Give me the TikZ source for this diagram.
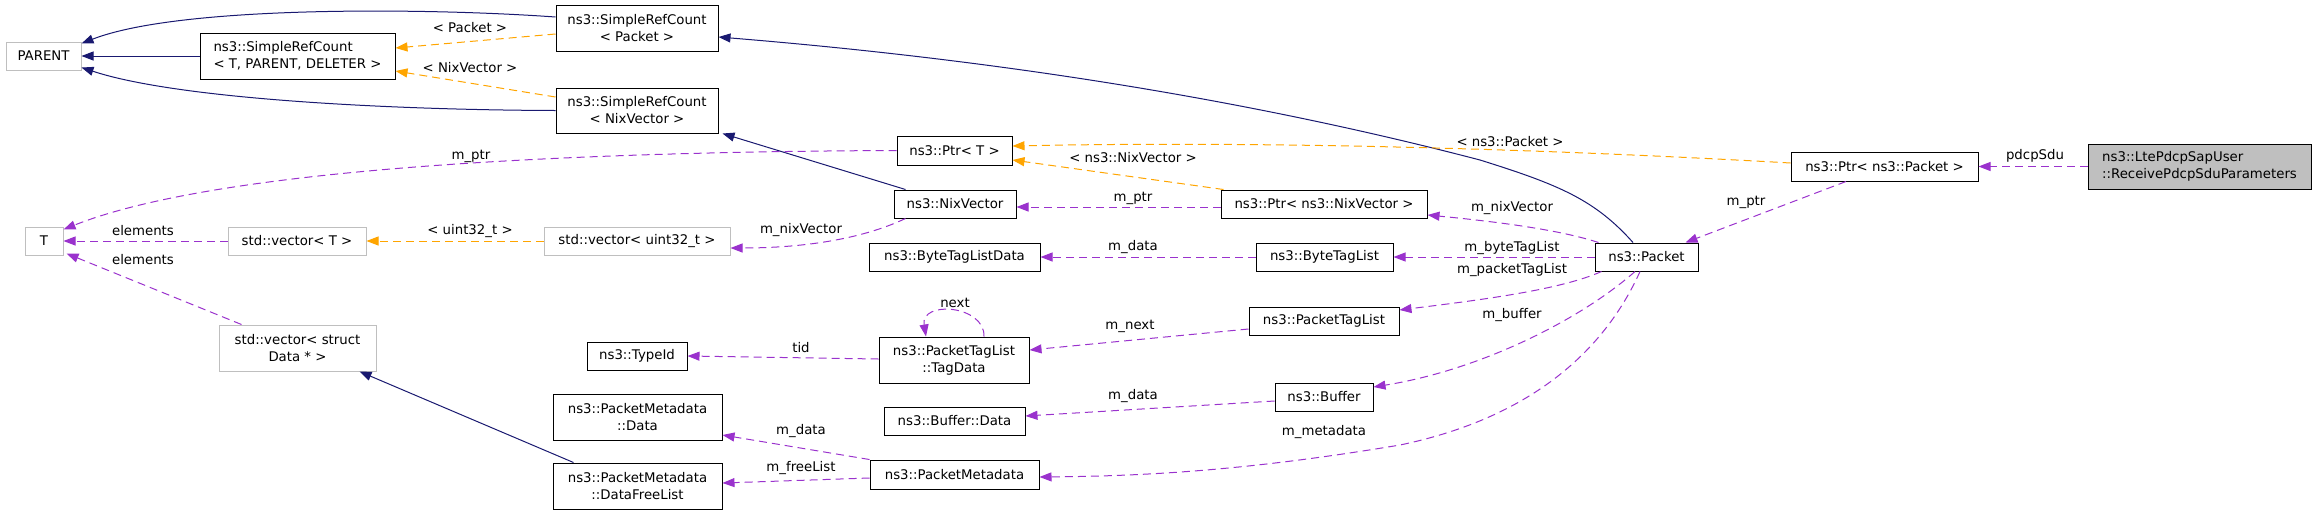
\documentclass[tikz,border=0pt]{standalone}
\usepackage{fontspec}
\setmainfont{DejaVu Sans}
\usetikzlibrary{arrows.meta}
\definecolor{navy}{HTML}{191970}
\definecolor{orng}{HTML}{FFA500}
\definecolor{purp}{HTML}{9A32CD}
\definecolor{gborder}{HTML}{BFBFBF}
\begin{document}
\begin{tikzpicture}[x=1pt,y=-1pt,
  font=\fontsize{13.3}{17}\selectfont,
  box/.style={draw=black, line width=1pt, inner sep=0pt, align=center, minimum height=28pt},
  gbox/.style={box, draw=gborder},
  tip/.style={-{Triangle[length=12pt,width=9pt]}},
  inh/.style={draw=navy, line width=1pt, tip},
  tmpl/.style={draw=orng, line width=1pt, dash pattern=on 8pt off 5pt, tip},
  use/.style={draw=purp, line width=1pt, dash pattern=on 8pt off 5pt, tip},
  lbl/.style={inner sep=0pt}]
\useasboundingbox (0,0) rectangle (2317,515);
% nodes
\node[gbox, minimum width=75pt] (PARENT) at (43.5,56) {PARENT};
\node[box, minimum width=195pt, minimum height=46pt, align=left] (srcT) at (297.5,56) {ns3::SimpleRefCount\\< T, PARENT, DELETER >};
\node[box, minimum width=162pt, minimum height=46pt] (srcPacket) at (637,28) {ns3::SimpleRefCount\\< Packet >};
\node[box, minimum width=162pt, minimum height=45pt] (srcNix) at (637,110.5) {ns3::SimpleRefCount\\< NixVector >};
\node[gbox, minimum width=38pt] (T) at (44,241) {T};
\node[gbox, minimum width=138pt] (vecT) at (297,241) {std::vector< T >};
\node[gbox, minimum width=186pt] (vecU) at (637,241) {std::vector< uint32\_t >};
\node[gbox, minimum width=157pt, minimum height=46pt] (vecData) at (297.5,348) {std::vector< struct\\Data * >};
\node[box, minimum width=100pt] (TypeId) at (637,356) {ns3::TypeId};
\node[box, minimum width=169pt, minimum height=46pt] (PMData) at (637.5,417) {ns3::PacketMetadata\\::Data};
\node[box, minimum width=169pt, minimum height=46pt] (PMFree) at (637.5,486) {ns3::PacketMetadata\\::DataFreeList};
\node[box, minimum width=115pt, minimum height=29pt] (PtrT) at (954.5,150.5) {ns3::Ptr< T >};
\node[box, minimum width=122pt] (Nix) at (955,204) {ns3::NixVector};
\node[box, minimum width=206pt] (PtrNix) at (1324,204) {ns3::Ptr< ns3::NixVector >};
\node[box, minimum width=171pt] (BTLD) at (954.5,257) {ns3::ByteTagListData};
\node[box, minimum width=137pt] (BTL) at (1324.5,257) {ns3::ByteTagList};
\node[box, minimum width=150pt, minimum height=46pt] (TagData) at (954,360) {ns3::PacketTagList\\::TagData};
\node[box, minimum width=150pt] (PTL) at (1324,321) {ns3::PacketTagList};
\node[box, minimum width=98pt] (Buffer) at (1324,397) {ns3::Buffer};
\node[box, minimum width=141pt] (BufData) at (954.5,421) {ns3::Buffer::Data};
\node[box, minimum width=169pt, minimum height=29pt] (PM) at (954.5,474.5) {ns3::PacketMetadata};
\node[box, minimum width=187pt, minimum height=29pt] (PtrPacket) at (1884.5,166.5) {ns3::Ptr< ns3::Packet >};
\node[box, fill=gborder, minimum width=223pt, minimum height=45pt, align=left] (Lte) at (2199.5,166.5) {ns3::LtePdcpSapUser\\::ReceivePdcpSduParameters};
\node[box, minimum width=103pt] (Packet) at (1646.5,257) {ns3::Packet};
% inheritance
\draw[inh] (srcT.west) -- (PARENT.east);
\draw[inh] ([yshift=11pt]srcPacket.west) .. controls (430,8) and (180,5) .. ([yshift=-2pt]PARENT.north east);
\draw[inh] (srcNix.west) .. controls (400,110) and (180,100) .. ([yshift=3pt]PARENT.south east);
\draw[inh] ([xshift=-13.5pt]Packet.north) .. controls (1595,200) and (1560,185) .. (1480,160) .. controls (1250,100) and (1000,60) .. ([yshift=-9pt]srcPacket.east);
\draw[inh] ([xshift=12pt]Nix.north west) -- ([xshift=4pt]srcNix.south east);
\draw[inh] ([xshift=21pt]PMFree.north west) -- ([xshift=-17pt]vecData.south east);
% template
\draw[tmpl] ([yshift=-6pt]srcPacket.west) -- ([yshift=8pt]srcT.east);
\draw[tmpl] ([yshift=13.5pt]srcNix.west) -- ([yshift=-15pt]srcT.east);
\draw[tmpl] (vecU.west) -- (vecT.east);
\draw[tmpl] ([xshift=3pt]PtrNix.north west) -- ([yshift=-9.5pt]PtrT.east);
\draw[tmpl] ([yshift=3.5pt]PtrPacket.west) .. controls (1600,152) and (1300,140) .. ([yshift=4.5pt]PtrT.east);
% usage
\draw[use] (PtrT.west) .. controls (500,152) and (200,175) .. ([yshift=-3pt]T.north east);
\draw[use] (vecT.west) -- (T.east);
\draw[use] ([xshift=23pt]vecData.north west) -- ([xshift=3pt,yshift=2pt]T.south east);
\draw[use] ([xshift=12pt]Nix.south west) .. controls (860,240) and (800,248) .. ([yshift=-7pt]vecU.east);
\draw[use] ([yshift=-3pt]PtrNix.west) -- ([yshift=-3pt]Nix.east);
\draw[use] ([xshift=4pt]Packet.north west) .. controls (1560,230) and (1500,222) .. ([yshift=-11pt]PtrNix.east);
\draw[use] (Packet.west) -- (BTL.east);
\draw[use] (BTL.west) -- (BTLD.east);
\draw[use] ([xshift=7pt]Packet.south west) .. controls (1560,290) and (1480,300) .. ([yshift=11pt]PTL.east);
\draw[use] ([yshift=-8pt]PTL.west) -- ([yshift=10pt]TagData.east);
\draw[use] ([xshift=30pt]TagData.north) .. controls (985,305) and (920,300) .. ([xshift=-28pt]TagData.north);
\draw[use] ([yshift=1pt]TagData.west) -- (TypeId.east);
\draw[use] ([xshift=-11.5pt]Packet.south) .. controls (1580,320) and (1480,370) .. ([yshift=10pt]Buffer.east);
\draw[use] ([yshift=-4pt]Buffer.west) -- ([yshift=5pt]BufData.east);
\draw[use] ([xshift=-6.5pt]Packet.south) .. controls (1600,360) and (1520,420) .. (1400,445) .. controls (1250,470) and (1150,476) .. ([yshift=-2.5pt]PM.east);
\draw[use] (PM.north west) -- ([yshift=-18pt]PMData.east);
\draw[use] ([yshift=-3.5pt]PM.west) -- ([yshift=3pt]PMFree.east);
\draw[use] ([xshift=-38.5pt]PtrPacket.south) -- ([xshift=-13pt]Packet.north east);
\draw[use] (Lte.west) -- (PtrPacket.east);
% labels
\node[lbl] (l1) at (470,28) {< Packet >};
\node[lbl] (l2) at (470,68) {< NixVector >};
\node[lbl] (l3) at (470,231) {< uint32\_t >};
\node[lbl] (l4) at (1133,158) {< ns3::NixVector >};
\node[lbl] (l5) at (1510,142) {< ns3::Packet >};
\node[lbl] (l6) at (471,156) {m\_ptr};
\node[lbl] (l7) at (143,231) {elements};
\node[lbl] (l8) at (143,260) {elements};
\node[lbl] (l9) at (801,230) {m\_nixVector};
\node[lbl] (l10) at (1133,198) {m\_ptr};
\node[lbl] (l11) at (1512,208) {m\_nixVector};
\node[lbl] (l12) at (1512,248) {m\_byteTagList};
\node[lbl] (l13) at (1133,247) {m\_data};
\node[lbl] (l14) at (1512,270) {m\_packetTagList};
\node[lbl] (l15) at (1130,326) {m\_next};
\node[lbl] (l16) at (955,303) {next};
\node[lbl] (l17) at (801,348) {tid};
\node[lbl] (l18) at (1512,315) {m\_buffer};
\node[lbl] (l19) at (1133,396) {m\_data};
\node[lbl] (l20) at (1324,432) {m\_metadata};
\node[lbl] (l21) at (801,431) {m\_data};
\node[lbl] (l22) at (801,468) {m\_freeList};
\node[lbl] (l23) at (1746,202) {m\_ptr};
\node[lbl] (l24) at (2035,156) {pdcpSdu};
\end{tikzpicture}
\end{document}
